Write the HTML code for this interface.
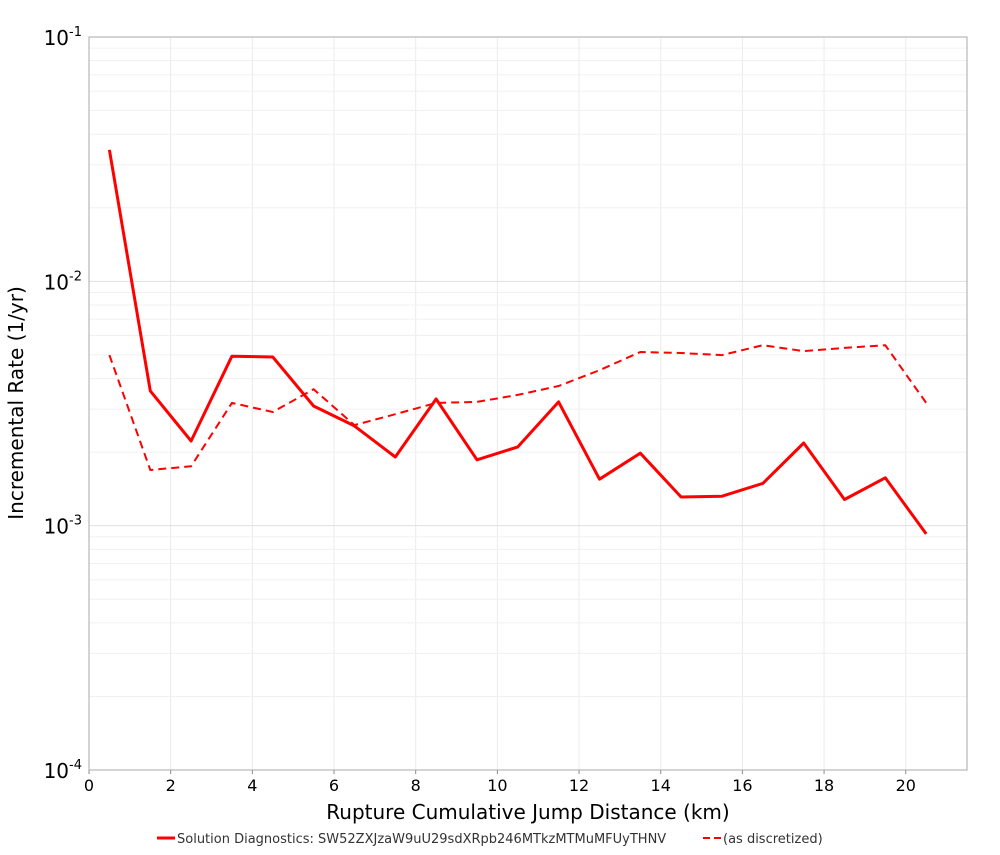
<!DOCTYPE html>
<html><head><meta charset="utf-8"><style>
body{margin:0;background:#fff;font-family:"Liberation Sans","DejaVu Sans",sans-serif}
svg text{font-family:"DejaVu Sans","Liberation Sans",sans-serif}
</style></head><body>
<svg id="chart" width="1000" height="850" xmlns="http://www.w3.org/2000/svg">
<rect x="0" y="0" width="1000" height="850" fill="#fff"/>
<g id="grid"></g><g id="series"></g><g id="axes"></g>
<text x="528" y="819" font-size="20" text-anchor="middle" fill="#000">Rupture Cumulative Jump Distance (km)</text>
<text transform="translate(23,403) rotate(-90)" font-size="20" text-anchor="middle" fill="#000">Incremental Rate (1/yr)</text>
<g>
<line x1="157" y1="838" x2="175" y2="838" stroke="#f00" stroke-width="3"/>
<text x="177" y="843" font-size="13" fill="#333">Solution Diagnostics: SW52ZXJzaW9uU29sdXRpb246MTkzMTMuMFUyTHNV</text>
<line x1="703" y1="838" x2="721" y2="838" stroke="#f00" stroke-width="2" stroke-dasharray="7,4"/>
<text x="723" y="843" font-size="13" fill="#333">(as discretized)</text>
</g>
</svg>
<script>
const xCenters=[0.5,1.5,2.5,3.5,4.5,5.5,6.5,7.5,8.5,9.5,10.5,11.5,12.5,13.5,14.5,15.5,16.5,17.5,18.5,19.5,20.5];
const solidRates=[0.0345,0.00356,0.00222,0.00494,0.0049,0.00309,0.00256,0.00191,0.0033,0.00186,0.0021,0.00321,0.00155,0.00198,0.00131,0.00132,0.00149,0.00218,0.00128,0.00157,0.000925];
const dashedRates=[0.00499,0.00169,0.00175,0.00318,0.00292,0.00362,0.00258,0.00286,0.00318,0.00321,0.00343,0.00373,0.00433,0.00514,0.00509,0.00499,0.00548,0.00518,0.00534,0.00548,0.00318];
const xTicks=[0,2,4,6,8,10,12,14,16,18,20];
const yDecades=[-4,-3,-2,-1];
const L=89,R=967,T=37,B=770,XMAX=21.5;
const NS="http://www.w3.org/2000/svg";
function xs(v){return L+v/XMAX*(R-L);}
function ys(v){return T+(-1-Math.log10(v))/3*(B-T);}
function mk(tag,attrs,parent){const e=document.createElementNS(NS,tag);for(const k in attrs)e.setAttribute(k,attrs[k]);parent.appendChild(e);return e;}
const grid=document.getElementById('grid'),axes=document.getElementById('axes'),ser=document.getElementById('series');
for(const t of xTicks){
 const g=mk('line',{x1:xs(t),x2:xs(t),y1:T,y2:B,stroke:'#ebebeb'},grid);
 
 
 const tk=mk('line',{x1:xs(t),x2:xs(t),y1:B,y2:B+4,stroke:'#888'},axes);
 
 
 const lb=mk('text',{x:xs(t),y:B+21,'font-size':16,'text-anchor':'middle',fill:'#000'},axes);
 lb.textContent=t;
 
 
}
for(let d=-4;d<-1;d++){for(let m=1;m<10;m++){const v=m*Math.pow(10,d);
 const g=mk('line',{x1:L,x2:R,y1:ys(v),y2:ys(v),stroke:m==1?'#e0e0e0':'#f0f0f0'},grid);
 
 }}
for(const d of yDecades){
 const y=ys(Math.pow(10,d));
 const lb=mk('text',{x:82,y:y+8,'font-size':20,'text-anchor':'end',fill:'#000'},axes);
 lb.innerHTML='10<tspan dy="-9" font-size="13">'+d+'</tspan>';
 
 
}
const fr=mk('rect',{x:L,y:T,width:R-L,height:B-T,fill:'none',stroke:'#aaa'},axes);


function line(vals,dash,name){
 const p=xCenters.map((x,i)=>xs(x).toFixed(1)+','+ys(vals[i]).toFixed(1)).join(' ');
 const a={points:p,fill:'none',stroke:'#f00','stroke-width':dash?2:3,'stroke-linejoin':'round'};
 if(dash)a['stroke-dasharray']='8,5';
 const e=mk('polyline',a,ser);
 
 
}
line(dashedRates,true,'discretized-line');
line(solidRates,false,'solution-line');
</script>
</body></html>
